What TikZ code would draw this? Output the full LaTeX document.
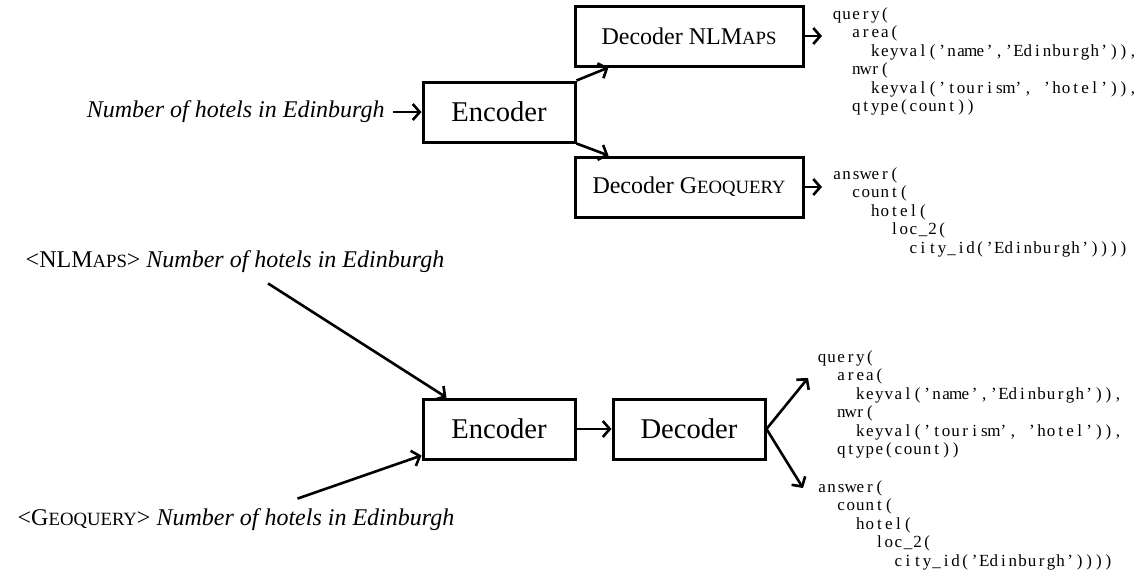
\documentclass[tikz,border=0pt]{standalone}
\usepackage{fontspec}
\setmainfont{Liberation Serif}
\usepackage{graphicx}
\usetikzlibrary{arrows.meta,calc}

% fake small caps
\newcommand\fsc[1]{\scalebox{0.78}{#1}}
% fixed columns, one box per character
\newcommand\cols[1]{\colsx#1\relax}
\def\colsx#1{\ifx\relax#1\else\makebox[4.77pt]{#1}\expandafter\colsx\fi}
\newcommand\nlmapscode{\cols{query(}\\
\cols{~~area(}\\
\cols{~~~~keyval('name','Edinburgh')),}\\
\cols{~~nwr(}\\
\cols{~~~~keyval('tourism',~'hotel')),}\\
\cols{~~qtype(count))}}
\newcommand\geocode{\cols{answer(}\\
\cols{~~count(}\\
\cols{~~~~hotel(}\\
\cols{~~~~~~loc\_2(}\\
\cols{~~~~~~~~city\_id('Edinburgh'))))}}

\begin{document}
\begin{tikzpicture}[x=0.5pt,y=-0.5pt,>={Straight Barb[length=3.5pt,width=8pt]}]
\tikzstyle{block}=[draw,line width=1.5pt,minimum width=76pt,minimum height=30pt,inner sep=0pt,font=\fontsize{14.3}{17}\selectfont]
\tikzstyle{decblock}=[block,minimum width=114pt,font=\fontsize{12}{14}\selectfont]
\tikzstyle{sent}=[inner sep=0pt,font=\fontsize{12}{14}\selectfont]
\tikzstyle{code}=[inner sep=0pt,anchor=north west,align=left,font=\fontsize{8.5}{9.25}\selectfont]
\tikzstyle{arr}=[->,line width=1.3pt]
\useasboundingbox (0,0) rectangle (1141,574);
% top: one decoder per language
\node [sent,anchor=east,inner xsep=4pt] (in1) at (393,112) {\textit{Number of hotels in Edinburgh}};
\node [block] (enc1) at (499,112) {Encoder};
\node [decblock] (dec1) at (689,36) {Decoder NLM\fsc{APS}};
\node [decblock] (dec2) at (689,187) {Decoder G\fsc{EOQUERY}};
\node [code] (code1) at (832,7) {\nlmapscode};
\node [code] (code2) at (832,167) {\geocode};
\draw [arr] (in1) -- (enc1);
\draw [arr] (enc1.north east) -- ([xshift=17.5pt]dec1.south west);
\draw [arr] (enc1.south east) -- ([xshift=17.5pt]dec2.north west);
\draw [arr] (dec1.east) -- ($(dec1.east -| code1.west)+(-5pt,0)$);
\draw [arr] (dec2.east) -- ($(dec2.east -| code2.west)+(-5pt,0)$);
% bottom: one decoder, language tag on the input
\node [sent] (in2) at (235,262) {<NLM\fsc{APS}> \textit{Number of hotels in Edinburgh}};
\node [sent] (in3) at (236,520) {<G\fsc{EOQUERY}> \textit{Number of hotels in Edinburgh}};
\node [block] (enc2) at (499,429) {Encoder};
\node [block] (dec3) at (689,429) {Decoder};
\node [code] (code3) at (817,350) {\nlmapscode};
\node [code] (code4) at (817,480) {\geocode};
\draw [arr] ([xshift=16.5pt,yshift=-5pt]in2.south) -- ([xshift=12.5pt]enc2.north west);
\draw [arr] ([xshift=30.75pt,yshift=5pt]in3.north) -- ([yshift=2.5pt]enc2.south west);
\draw [arr] (enc2) -- (dec3);
\draw [arr] (dec3.east) -- ([shift={(-4.5pt,-14pt)}]code3.north west);
\draw [arr] (dec3.east) -- ([shift={(-7pt,-4pt)}]code4.north west);
\end{tikzpicture}
\end{document}
